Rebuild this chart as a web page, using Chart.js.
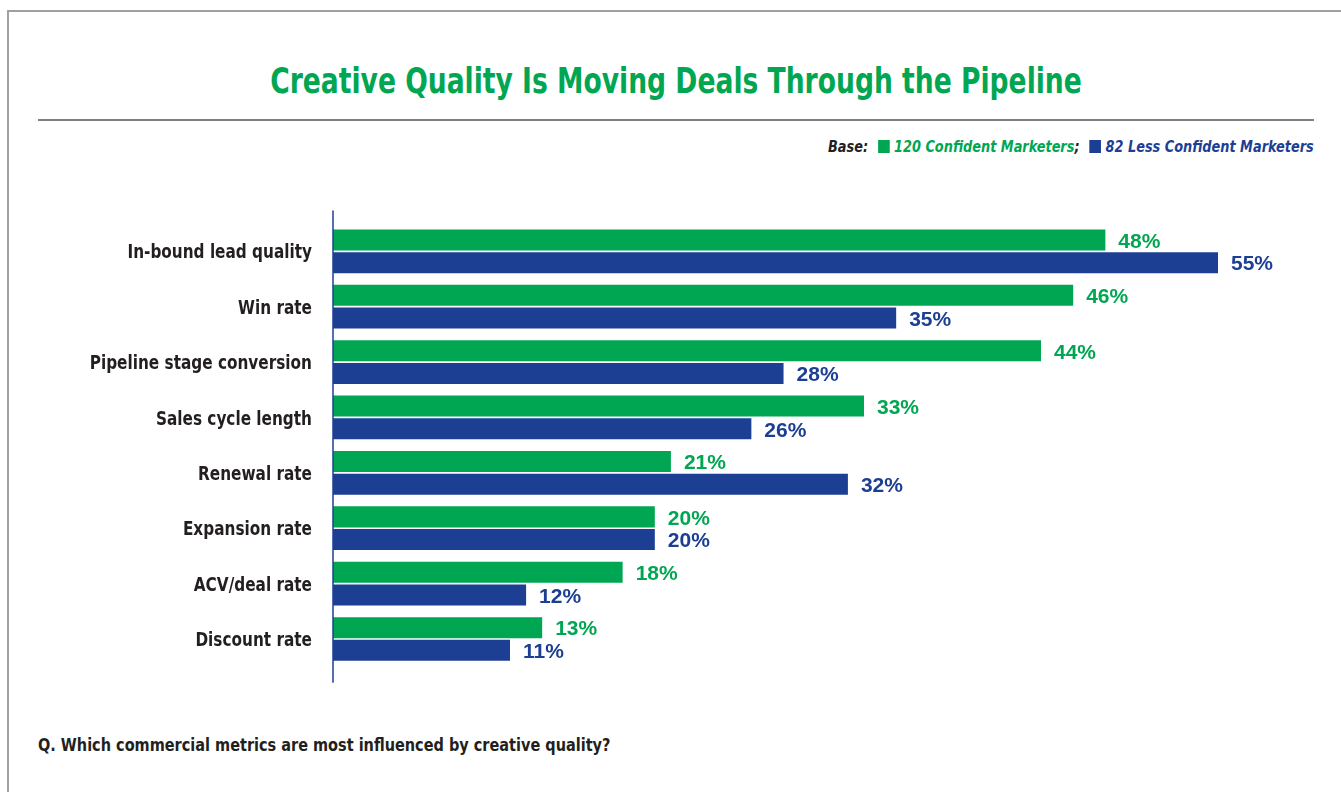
<!DOCTYPE html>
<html>
<head>
<meta charset="utf-8">
<script src="https://cdn.jsdelivr.net/npm/chart.js@4.4.1/dist/chart.umd.min.js"></script>
<style>
  html, body { margin: 0; padding: 0; background: #ffffff; }
  body { width: 1341px; height: 792px; position: relative; overflow: hidden;
         font-family: "DejaVu Sans Condensed", "Liberation Sans", sans-serif; }
  .frame { position: absolute; left: 7px; top: 10px; right: -10px; bottom: -10px;
           border-top: 2px solid #a0a0a0; border-left: 2px solid #a0a0a0; }
  .title { position: absolute; left: 0; width: 1352px; top: 59px; text-align: center;
           color: #00a651; font-weight: bold; font-size: 35px; line-height: 44px;
           transform: scaleX(0.844); transform-origin: 676px 0; }
  .rule { position: absolute; left: 38px; width: 1276px; top: 119px; height: 2px; background: #7f7f7f; }
  .legend { position: absolute; right: 27px; top: 136px; font-size: 16px; line-height: 22px;
            font-weight: bold; font-style: italic; white-space: nowrap;
            transform: scaleX(0.895); transform-origin: right top; }
  .legend .base { color: #231f20; margin-right: 6px; }
  .legend .sw { display: inline-block; width: 13px; height: 13px; vertical-align: -1px; margin-right: 5px; }
  .legend .g { color: #00a651; }
  .legend .b { color: #1c3f94; }
  .question { position: absolute; left: 38px; top: 734px; font-size: 17px; line-height: 22px;
              font-weight: bold; color: #231f20; white-space: nowrap;
              transform: scaleX(0.947); transform-origin: left top; }
  #wrap { position: absolute; left: 0; top: 190px; width: 1341px; height: 510px; }
</style>
</head>
<body>
<div class="frame"></div>
<div class="title">Creative Quality Is Moving Deals Through the Pipeline</div>
<div class="rule"></div>
<div class="legend">
  <span class="base">Base:</span>
  <span class="sw" style="background:#00a651"></span><span class="g">120 Confident Marketers</span><span class="base">;</span>
  <span class="sw" style="background:#1c3f94"></span><span class="b">82 Less Confident Marketers</span>
</div>
<div id="wrap"><canvas id="chart"></canvas></div>
<div class="question">Q. Which commercial metrics are most influenced by creative quality?</div>

<script>
const categories = [
  "In-bound lead quality",
  "Win rate",
  "Pipeline stage conversion",
  "Sales cycle length",
  "Renewal rate",
  "Expansion rate",
  "ACV/deal rate",
  "Discount rate"
];
const confidentValues = [48, 46, 44, 33, 21, 20, 18, 13];
const lessConfidentValues = [55, 35, 28, 26, 32, 20, 12, 11];
const seriesNames = ["120 Confident Marketers", "82 Less Confident Marketers"];

const GREEN = "#00a651";
const BLUE = "#1c3f94";
const CONDENSED = '"DejaVu Sans Condensed", "Liberation Sans", sans-serif';

// Percentage labels at the end of each bar
const valueLabels = {
  id: "valueLabels",
  afterDatasetsDraw(chart) {
    const ctx = chart.ctx;
    ctx.save();
    ctx.font = 'bold 21px "Liberation Sans", Arial, sans-serif';
    ctx.textBaseline = "middle";
    ctx.textAlign = "left";
    chart.data.datasets.forEach((ds, di) => {
      const meta = chart.getDatasetMeta(di);
      ctx.fillStyle = ds.backgroundColor;
      meta.data.forEach((bar, i) => {
        ctx.fillText(ds.data[i] + "%", bar.x + 13, bar.y + 2);
      });
    });
    ctx.restore();
  }
};

// Category names, set in a narrowed bold face to the left of the axis
const categoryLabels = {
  id: "categoryLabels",
  afterDraw(chart) {
    const ctx = chart.ctx;
    const yScale = chart.scales.y;
    const right = chart.chartArea.left - 21;
    ctx.save();
    ctx.font = "bold 20px " + CONDENSED;
    ctx.fillStyle = "#231f20";
    ctx.textAlign = "right";
    ctx.textBaseline = "middle";
    chart.data.labels.forEach((label, i) => {
      const y = yScale.getPixelForTick(i) + 2;
      ctx.save();
      ctx.translate(right, y);
      ctx.scale(0.85, 1);
      ctx.fillText(label, 0, 0);
      ctx.restore();
    });
    ctx.restore();
  }
};

// Vertical baseline at zero, running a little past the plot area
const baseLine = {
  id: "baseLine",
  afterDatasetsDraw(chart) {
    const ctx = chart.ctx;
    const x = chart.scales.x.getPixelForValue(0);
    ctx.save();
    ctx.strokeStyle = BLUE;
    ctx.lineWidth = 1.5;
    ctx.beginPath();
    ctx.moveTo(x, chart.chartArea.top - 13);
    ctx.lineTo(x, chart.chartArea.bottom + 16);
    ctx.stroke();
    ctx.restore();
  }
};

new Chart(document.getElementById("chart"), {
  type: "bar",
  data: {
    labels: categories,
    datasets: [
      { label: seriesNames[0], data: confidentValues, backgroundColor: GREEN,
        categoryPercentage: 0.82, barPercentage: 0.925 },
      { label: seriesNames[1], data: lessConfidentValues, backgroundColor: BLUE,
        categoryPercentage: 0.82, barPercentage: 0.925 }
    ]
  },
  options: {
    indexAxis: "y",
    responsive: true,
    maintainAspectRatio: false,
    animation: false,
    layout: { padding: { top: 33.6, bottom: 33.3, left: 0, right: 42.55 } },
    plugins: { legend: { display: false }, tooltip: { enabled: false } },
    scales: {
      x: { display: false, min: 0, max: 60, grid: { display: false } },
      y: {
        grid: { display: false, drawTicks: false },
        border: { display: false },
        ticks: { display: false },
        afterFit(scale) { scale.width = 333; }
      }
    }
  },
  plugins: [valueLabels, categoryLabels, baseLine]
});
</script>
</body>
</html>
